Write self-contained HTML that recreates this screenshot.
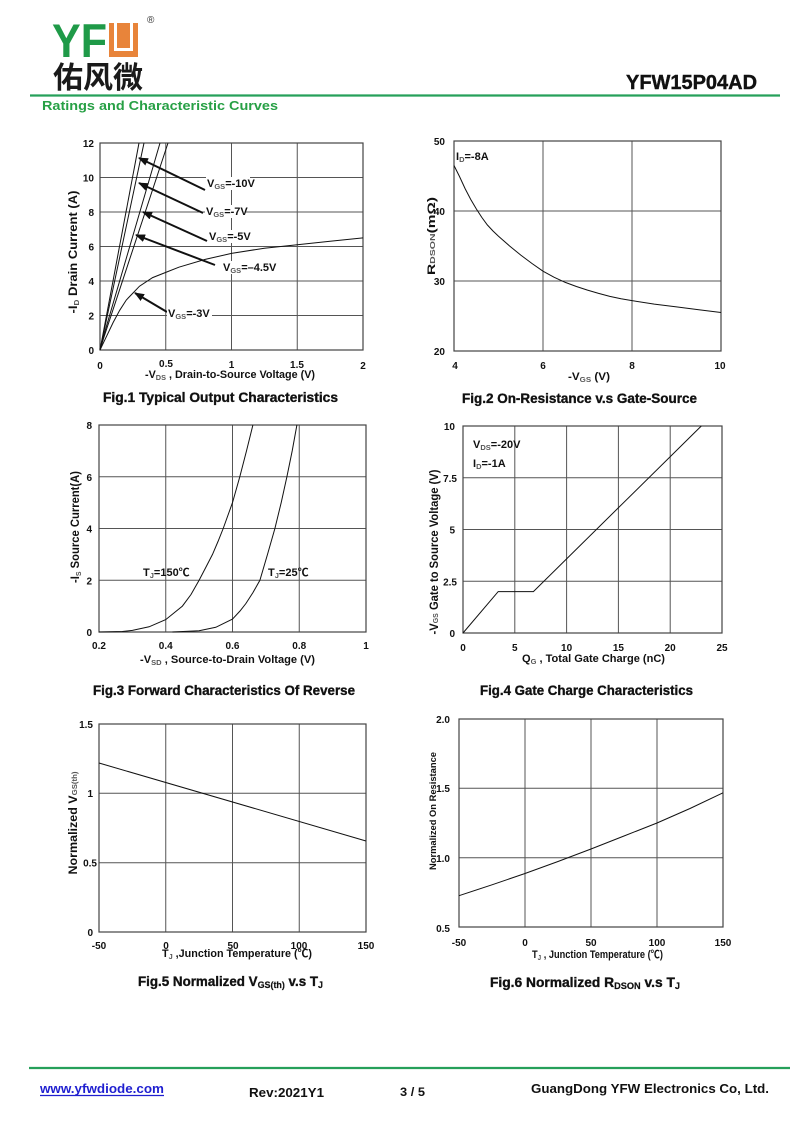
<!DOCTYPE html>
<html>
<head>
<meta charset="utf-8">
<style>
html,body{margin:0;padding:0;background:#fff;}
svg{display:block;}
text{font-family:"Liberation Sans","Noto Sans CJK SC",sans-serif;font-weight:bold;fill:#111;}
.tk{font-size:10px;}
.ax{font-size:11px;}
.cap{font-size:13.5px;stroke:#111;stroke-width:0.35px;}
.yt{font-size:12px;}
.sub{font-size:7.5px;fill:#555;stroke:none;}
.grid{stroke:#555;stroke-width:1;fill:none;}
.frame{stroke:#444;stroke-width:1.2;fill:none;}
.crv{stroke:#111;stroke-width:1;fill:none;}
.arr{stroke:#111;stroke-width:2;fill:none;}
</style>
</head>
<body>
<svg width="800" height="1130" viewBox="0 0 800 1130" xmlns="http://www.w3.org/2000/svg">
<defs>
<marker id="ah" markerWidth="10" markerHeight="8" refX="9" refY="4" orient="auto" markerUnits="userSpaceOnUse">
<path d="M0,0 L10,4 L0,8 Z" fill="#111"/>
</marker>
</defs>
<rect width="800" height="1130" fill="#fff"/>

<!-- HEADER -->
<text x="52" y="57" font-size="47" textLength="55" lengthAdjust="spacingAndGlyphs" style="fill:#1f9a48">YF</text>
<rect x="109" y="23" width="29" height="34" fill="#e8843a"/>
<path d="M114,23 L114,51 L133,51 L133,23 L130,23 L130,48 L117,48 L117,23 Z" fill="#fff"/>
<text x="147" y="23" font-size="10" style="font-weight:normal;fill:#333">®</text>
<text x="53" y="88" font-size="30" textLength="90" lengthAdjust="spacingAndGlyphs" style="font-family:'Noto Sans CJK SC',sans-serif;fill:#1a1a1a">佑风微</text>
<text x="626" y="89" font-size="20" textLength="131" lengthAdjust="spacingAndGlyphs" style="stroke:#111;stroke-width:0.4px">YFW15P04AD</text>
<line x1="30" y1="95.5" x2="780" y2="95.5" stroke="#26a05a" stroke-width="2.2"/>
<text x="42" y="110" font-size="12.5" textLength="236" lengthAdjust="spacingAndGlyphs" style="fill:#27a045">Ratings and Characteristic Curves</text>

<!-- FIG 1 -->
<g>
<line class="grid" x1="165.75" y1="143" x2="165.75" y2="350"/>
<line class="grid" x1="231.5" y1="143" x2="231.5" y2="350"/>
<line class="grid" x1="297.25" y1="143" x2="297.25" y2="350"/>
<line class="grid" x1="100" y1="315.5" x2="363" y2="315.5"/>
<line class="grid" x1="100" y1="281" x2="363" y2="281"/>
<line class="grid" x1="100" y1="246.5" x2="363" y2="246.5"/>
<line class="grid" x1="100" y1="212" x2="363" y2="212"/>
<line class="grid" x1="100" y1="177.5" x2="363" y2="177.5"/>
<rect class="frame" x="100" y="143" width="263" height="207"/>
<path class="crv" d="M100,350 L139,143"/>
<path class="crv" d="M100,350 L144,143"/>
<path class="crv" d="M100,350 L103,338 L160,143"/>
<path class="crv" d="M100,350 L104,337 L168,143"/>
<path class="crv" d="M100,350 L106.6,336.2 L113.2,322.4 L119.7,310.3 L126.3,300 L132.9,293.1 L139.5,286.2 L152.6,277.6 L165.8,272.4 L178.9,267.2 L205.2,259.4 L231.5,253.4 L264.4,248.2 L297.3,244.8 L330.1,241.3 L363,237.9"/>
<line class="arr" x1="205" y1="190" x2="139" y2="158" marker-end="url(#ah)"/>
<line class="arr" x1="203" y1="213" x2="139" y2="183" marker-end="url(#ah)"/>
<line class="arr" x1="207" y1="241" x2="143" y2="212" marker-end="url(#ah)"/>
<line class="arr" x1="215" y1="265" x2="136" y2="235" marker-end="url(#ah)"/>
<line class="arr" x1="167" y1="312" x2="135" y2="293" marker-end="url(#ah)"/>
<rect x="206" y="177" width="44" height="13" fill="#fff"/>
<rect x="205" y="205" width="40" height="13" fill="#fff"/>
<rect x="208" y="230" width="37" height="13" fill="#fff"/>
<rect x="222" y="261" width="50" height="13" fill="#fff"/>
<rect x="167" y="307" width="45" height="13" fill="#fff"/>
<text class="ax" x="207" y="187">V<tspan class="sub" dy="2">GS</tspan><tspan dy="-2">=-10V</tspan></text>
<text class="ax" x="206" y="215">V<tspan class="sub" dy="2">GS</tspan><tspan dy="-2">=-7V</tspan></text>
<text class="ax" x="209" y="240">V<tspan class="sub" dy="2">GS</tspan><tspan dy="-2">=-5V</tspan></text>
<text class="ax" x="223" y="271">V<tspan class="sub" dy="2">GS</tspan><tspan dy="-2">=–4.5V</tspan></text>
<text class="ax" x="168" y="317">V<tspan class="sub" dy="2">GS</tspan><tspan dy="-2">=-3V</tspan></text>
<g text-anchor="end">
<text class="tk" x="94" y="147">12</text>
<text class="tk" x="94" y="181.5">10</text>
<text class="tk" x="94" y="216">8</text>
<text class="tk" x="94" y="250.5">6</text>
<text class="tk" x="94" y="285">4</text>
<text class="tk" x="94" y="319.5">2</text>
<text class="tk" x="94" y="354">0</text>
</g>
<g text-anchor="middle">
<text class="tk" x="100" y="369">0</text>
<text class="tk" x="166" y="367">0.5</text>
<text class="tk" x="231.5" y="368">1</text>
<text class="tk" x="297" y="368">1.5</text>
<text class="tk" x="363" y="369">2</text>
</g>
<text class="ax" x="145" y="378" textLength="170" lengthAdjust="spacingAndGlyphs">-V<tspan class="sub" dy="2">DS</tspan><tspan dy="-2"> , Drain-to-Source Voltage (V)</tspan></text>
<text class="yt" x="77" y="252" text-anchor="middle" transform="rotate(-90 77 252)" textLength="123" lengthAdjust="spacingAndGlyphs">-I<tspan class="sub" dy="2">D</tspan><tspan dy="-2"> Drain Current (A)</tspan></text>
<text class="cap" x="103" y="402" textLength="235" lengthAdjust="spacingAndGlyphs">Fig.1 Typical Output Characteristics</text>
</g>

<!-- FIG 2 -->
<g>
<line class="grid" x1="543" y1="141" x2="543" y2="351"/>
<line class="grid" x1="632" y1="141" x2="632" y2="351"/>
<line class="grid" x1="454" y1="281" x2="721" y2="281"/>
<line class="grid" x1="454" y1="211" x2="721" y2="211"/>
<rect class="frame" x="454" y="141" width="267" height="210"/>
<path class="crv" d="M454,165.5 L459.5,176.5 L465.1,188.6 L470.7,199.4 L476.3,208.9 L481.8,217.4 L487.4,225 L493,231 L498.5,236.2 L509.6,246 L520.8,255.1 L532,263.5 L543,271.2 L554.2,277.3 L565.3,282.4 L576.4,286.5 L587.5,290.1 L598.6,293.4 L609.8,296.4 L621,298.7 L632,300.6 L654.3,304.1 L676.5,306.9 L698.8,309.7 L721,312.5"/>
<text class="ax" x="456" y="160">I<tspan class="sub" dy="2">D</tspan><tspan dy="-2">=-8A</tspan></text>
<g text-anchor="end">
<text class="tk" x="445" y="145">50</text>
<text class="tk" x="445" y="215">40</text>
<text class="tk" x="445" y="285">30</text>
<text class="tk" x="445" y="355">20</text>
</g>
<g text-anchor="middle">
<text class="tk" x="455" y="369">4</text>
<text class="tk" x="543" y="369">6</text>
<text class="tk" x="632" y="369">8</text>
<text class="tk" x="720" y="369">10</text>
</g>
<text class="ax" x="568" y="380" textLength="42" lengthAdjust="spacingAndGlyphs">-V<tspan class="sub" dy="2">GS</tspan><tspan dy="-2"> (V)</tspan></text>
<text x="435" y="236" text-anchor="middle" transform="rotate(-90 435 236)" style="font-size:11px" textLength="78" lengthAdjust="spacingAndGlyphs">R<tspan class="sub">DSON</tspan><tspan>(mΩ)</tspan></text>
<text class="cap" x="462" y="403" textLength="235" lengthAdjust="spacingAndGlyphs">Fig.2 On-Resistance v.s Gate-Source</text>
</g>

<!-- FIG 3 -->
<g>
<line class="grid" x1="165.75" y1="425" x2="165.75" y2="632"/>
<line class="grid" x1="232.5" y1="425" x2="232.5" y2="632"/>
<line class="grid" x1="299.25" y1="425" x2="299.25" y2="632"/>
<line class="grid" x1="99" y1="580.25" x2="366" y2="580.25"/>
<line class="grid" x1="99" y1="528.5" x2="366" y2="528.5"/>
<line class="grid" x1="99" y1="476.75" x2="366" y2="476.75"/>
<rect class="frame" x="99" y="425" width="267" height="207"/>
<path class="crv" d="M99,632 L122.4,631.5 L132.4,630.4 L149.1,626.8 L165.75,619.6 L182.4,606.1 L191,594.5 L199.1,580.25 L206,567 L212.5,554.4 L218,541.5 L223.2,528.5 L232.5,502.6 L239.8,476.75 L246.5,450.9 L252.9,425"/>
<path class="crv" d="M172.4,632 L199.1,630.7 L215.8,627.3 L232.5,619.1 L240,611 L245.9,603.5 L253,592.5 L259.9,580.25 L267.5,554.4 L274.9,528.5 L281.2,502.6 L286.9,476.75 L292.2,450.9 L296.9,425"/>
<text class="ax" x="143" y="576">T<tspan class="sub" dy="2">J</tspan><tspan dy="-2">=150℃</tspan></text>
<text class="ax" x="268" y="576">T<tspan class="sub" dy="2">J</tspan><tspan dy="-2">=25℃</tspan></text>
<g text-anchor="end">
<text class="tk" x="92" y="429">8</text>
<text class="tk" x="92" y="480.75">6</text>
<text class="tk" x="92" y="532.5">4</text>
<text class="tk" x="92" y="584.25">2</text>
<text class="tk" x="92" y="636">0</text>
</g>
<g text-anchor="middle">
<text class="tk" x="99" y="649">0.2</text>
<text class="tk" x="165.75" y="649">0.4</text>
<text class="tk" x="232.5" y="649">0.6</text>
<text class="tk" x="299.25" y="649">0.8</text>
<text class="tk" x="366" y="649">1</text>
</g>
<text class="ax" x="140" y="663" textLength="175" lengthAdjust="spacingAndGlyphs">-V<tspan class="sub" dy="2">SD</tspan><tspan dy="-2"> , Source-to-Drain Voltage (V)</tspan></text>
<text class="yt" x="79" y="527" text-anchor="middle" transform="rotate(-90 79 527)" textLength="112" lengthAdjust="spacingAndGlyphs">-I<tspan class="sub" dy="2">S</tspan><tspan dy="-2"> Source Current(A)</tspan></text>
<text class="cap" x="93" y="695" textLength="262" lengthAdjust="spacingAndGlyphs">Fig.3 Forward Characteristics Of Reverse</text>
</g>

<!-- FIG 4 -->
<g>
<line class="grid" x1="514.8" y1="426" x2="514.8" y2="633"/>
<line class="grid" x1="566.6" y1="426" x2="566.6" y2="633"/>
<line class="grid" x1="618.4" y1="426" x2="618.4" y2="633"/>
<line class="grid" x1="670.2" y1="426" x2="670.2" y2="633"/>
<line class="grid" x1="463" y1="581.25" x2="722" y2="581.25"/>
<line class="grid" x1="463" y1="529.5" x2="722" y2="529.5"/>
<line class="grid" x1="463" y1="477.75" x2="722" y2="477.75"/>
<rect class="frame" x="463" y="426" width="259" height="207"/>
<path class="crv" d="M463,633 L498.2,591.6 L533.4,591.6 L701.3,426"/>
<text class="ax" x="473" y="448">V<tspan class="sub" dy="2">DS</tspan><tspan dy="-2">=-20V</tspan></text>
<text class="ax" x="473" y="467">I<tspan class="sub" dy="2">D</tspan><tspan dy="-2">=-1A</tspan></text>
<g text-anchor="end">
<text class="tk" x="455" y="430">10</text>
<text class="tk" x="457" y="482">7.5</text>
<text class="tk" x="455" y="533.5">5</text>
<text class="tk" x="457" y="585.5">2.5</text>
<text class="tk" x="455" y="637">0</text>
</g>
<g text-anchor="middle">
<text class="tk" x="463" y="651">0</text>
<text class="tk" x="514.8" y="651">5</text>
<text class="tk" x="566.6" y="651">10</text>
<text class="tk" x="618.4" y="651">15</text>
<text class="tk" x="670.2" y="651">20</text>
<text class="tk" x="722" y="651">25</text>
</g>
<text class="ax" x="522" y="662" textLength="143" lengthAdjust="spacingAndGlyphs">Q<tspan class="sub" dy="2">G</tspan><tspan dy="-2"> , Total Gate Charge (nC)</tspan></text>
<text class="yt" x="438" y="552" text-anchor="middle" transform="rotate(-90 438 552)" textLength="165" lengthAdjust="spacingAndGlyphs">-V<tspan class="sub">GS</tspan><tspan>  Gate to Source Voltage (V)</tspan></text>
<text class="cap" x="480" y="695" textLength="213" lengthAdjust="spacingAndGlyphs">Fig.4 Gate Charge Characteristics</text>
</g>

<!-- FIG 5 -->
<g>
<line class="grid" x1="165.75" y1="724" x2="165.75" y2="932"/>
<line class="grid" x1="232.5" y1="724" x2="232.5" y2="932"/>
<line class="grid" x1="299.25" y1="724" x2="299.25" y2="932"/>
<line class="grid" x1="99" y1="862.7" x2="366" y2="862.7"/>
<line class="grid" x1="99" y1="793.3" x2="366" y2="793.3"/>
<rect class="frame" x="99" y="724" width="267" height="208"/>
<path class="crv" d="M99,763 L366,841"/>
<g text-anchor="end">
<text class="tk" x="93" y="728">1.5</text>
<text class="tk" x="93" y="797">1</text>
<text class="tk" x="97" y="866.5">0.5</text>
<text class="tk" x="93" y="936">0</text>
</g>
<g text-anchor="middle">
<text class="tk" x="99" y="949">-50</text>
<text class="tk" x="166" y="949">0</text>
<text class="tk" x="233" y="949">50</text>
<text class="tk" x="299" y="949">100</text>
<text class="tk" x="366" y="949">150</text>
</g>
<text class="ax" x="162" y="957" textLength="150" lengthAdjust="spacingAndGlyphs">T<tspan class="sub" dy="2">J</tspan><tspan dy="-2"> ,Junction Temperature (℃)</tspan></text>
<text class="yt" x="77" y="823" text-anchor="middle" transform="rotate(-90 77 823)" textLength="103" lengthAdjust="spacingAndGlyphs">Normalized V<tspan class="sub">GS(th)</tspan></text>
<text class="cap" x="138" y="986" textLength="185" lengthAdjust="spacingAndGlyphs">Fig.5 Normalized V<tspan style="font-size:9px;stroke-width:0.2px" dy="2">GS(th)</tspan><tspan dy="-2"> v.s T</tspan><tspan style="font-size:9px;stroke-width:0.2px" dy="2">J</tspan></text>
</g>

<!-- FIG 6 -->
<g>
<line class="grid" x1="525" y1="719" x2="525" y2="927"/>
<line class="grid" x1="591" y1="719" x2="591" y2="927"/>
<line class="grid" x1="657" y1="719" x2="657" y2="927"/>
<line class="grid" x1="459" y1="857.7" x2="723" y2="857.7"/>
<line class="grid" x1="459" y1="788.3" x2="723" y2="788.3"/>
<rect class="frame" x="459" y="719" width="264" height="208"/>
<path class="crv" d="M459,895.7 L492,884.8 L525,873.5 L558,861.5 L591,849 L624,836 L657,823 L690,808.5 L723,792.8"/>
<g text-anchor="end">
<text class="tk" x="450" y="723">2.0</text>
<text class="tk" x="450" y="792">1.5</text>
<text class="tk" x="450" y="862">1.0</text>
<text class="tk" x="450" y="932">0.5</text>
</g>
<g text-anchor="middle">
<text class="tk" x="459" y="946">-50</text>
<text class="tk" x="525" y="946">0</text>
<text class="tk" x="591" y="946">50</text>
<text class="tk" x="657" y="946">100</text>
<text class="tk" x="723" y="946">150</text>
</g>
<text class="ax" x="532" y="958" textLength="131" lengthAdjust="spacingAndGlyphs">T<tspan class="sub" dy="2">J</tspan><tspan dy="-2"> , Junction Temperature (℃)</tspan></text>
<text x="436" y="811" text-anchor="middle" transform="rotate(-90 436 811)" style="font-size:9.5px" textLength="118" lengthAdjust="spacingAndGlyphs">Normalized On Resistance</text>
<text class="cap" x="490" y="987" textLength="190" lengthAdjust="spacingAndGlyphs">Fig.6 Normalized R<tspan style="font-size:9px;stroke-width:0.2px" dy="2">DSON</tspan><tspan dy="-2"> v.s T</tspan><tspan style="font-size:9px;stroke-width:0.2px" dy="2">J</tspan></text>
</g>

<!-- FOOTER -->
<line x1="29" y1="1068" x2="790" y2="1068" stroke="#26a05a" stroke-width="2.2"/>
<text x="40" y="1093" font-size="13" textLength="124" lengthAdjust="spacingAndGlyphs" style="fill:#1f1fd0">www.yfwdiode.com</text>
<line x1="40" y1="1095.5" x2="164" y2="1095.5" stroke="#1f1fd0" stroke-width="1.2"/>
<text x="249" y="1097" font-size="13" textLength="75" lengthAdjust="spacingAndGlyphs">Rev:2021Y1</text>
<text x="400" y="1096" font-size="12" textLength="25" lengthAdjust="spacingAndGlyphs">3 / 5</text>
<text x="531" y="1093" font-size="13" textLength="238" lengthAdjust="spacingAndGlyphs">GuangDong YFW Electronics Co, Ltd.</text>
</svg>
</body>
</html>
